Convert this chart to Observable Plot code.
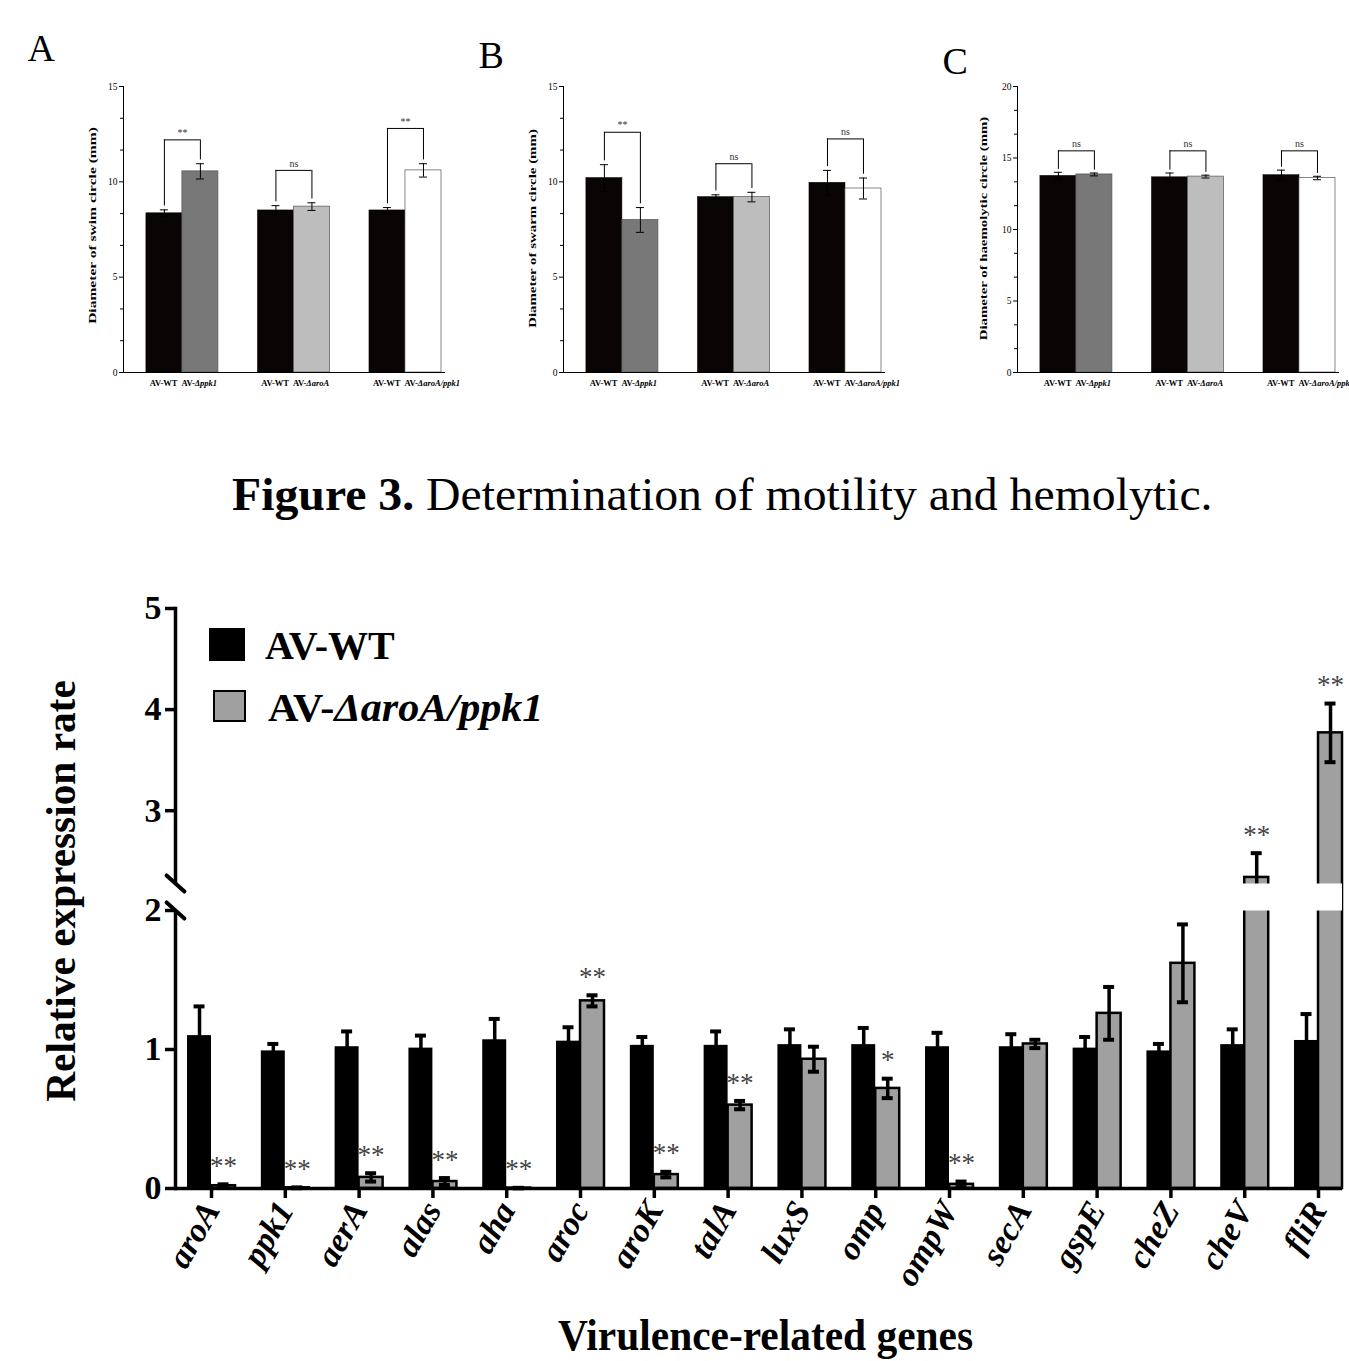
<!DOCTYPE html>
<html>
<head>
<meta charset="utf-8">
<script src="https://cdn.jsdelivr.net/npm/d3@7"></script>
<script src="https://cdn.jsdelivr.net/npm/@observablehq/plot@0.6"></script>
<style>
  html, body { margin: 0; padding: 0; background: #fff; }
  body { width: 1349px; height: 1361px; overflow: hidden; position: relative;
         font-family: 'Liberation Serif', 'Times New Roman', serif; color: #000; }
  .abs { position: absolute; white-space: nowrap; line-height: 1; }
  .panel { position: absolute; }
</style>
</head>
<body>
<script>
// ---------------- DATA ----------------
// Top panels (A: swim, B: swarm, C: haemolytic)
const topGroups = ["ppk1", "aroA", "aroA/ppk1"];
const wtLabel = "AV-WT";
const mutLabels = ["AV-Δppk1", "AV-ΔaroA", "AV-ΔaroA/ppk1"];

const swimWT = [8.35, 8.5, 8.5];
const swimWTErr = [0.18, 0.25, 0.15];
const swimMut = [10.55, 8.7, 10.6];
const swimMutErr = [0.4, 0.2, 0.35];
const swimSig = ["**", "ns", "**"];
const swimBracket = [12.2, 10.6, 12.8];

const swarmWT = [10.2, 9.2, 9.95];
const swarmWTErr = [0.7, 0.12, 0.65];
const swarmMut = [8.0, 9.2, 9.65];
const swarmMutErr = [0.65, 0.25, 0.55];
const swarmSig = ["**", "ns", "ns"];
const swarmBracket = [12.6, 10.95, 12.25];

const haemoWT = [13.75, 13.65, 13.8];
const haemoWTErr = [0.25, 0.3, 0.35];
const haemoMut = [13.85, 13.7, 13.6];
const haemoMutErr = [0.1, 0.1, 0.12];
const haemoSig = ["ns", "ns", "ns"];
const haemoBracket = [15.5, 15.5, 15.5];

// Bottom panel: relative expression
const genes = ["aroA", "ppk1", "aerA", "alas", "aha", "aroc", "aroK", "talA",
               "luxS", "omp", "ompW", "secA", "gspE", "cheZ", "cheV", "fliR"];
const wtExpr    = [1.10, 0.99, 1.02, 1.01, 1.07, 1.06, 1.03, 1.03, 1.035, 1.035, 1.02, 1.02, 1.01, 0.99, 1.035, 1.065];
const wtExprErr = [0.21, 0.05, 0.11, 0.09, 0.15, 0.10, 0.06, 0.10, 0.11, 0.12, 0.10, 0.09, 0.08, 0.05, 0.11, 0.19];
const mutExpr    = [0.02, 0.005, 0.08, 0.05, 0.003, 1.35, 0.10, 0.60, 0.93, 0.72, 0.03, 1.04, 1.26, 1.62, 2.34, 3.77];
const mutExprErr = [0.01, 0.003, 0.03, 0.025, 0.002, 0.04, 0.02, 0.03, 0.09, 0.07, 0.02, 0.03, 0.19, 0.28, 0.24, 0.29];
const exprSig = ["**", "**", "**", "**", "**", "**", "**", "**", "", "*", "**", "", "", "", "**", "**"];
const yTicksBottom = [0, 1, 2, 3, 4, 5];
const axisBreak = [2, 2.28];   // y-axis break (lower segment top, upper segment bottom)

const seriesNames = ["AV-WT", "AV-ΔaroA/ppk1"];

// ---------------- STYLE ----------------
const SERIF = "'Liberation Serif', 'Times New Roman', serif";
const WT_FILL = "#0a0505";
const MUT_FILLS = ["#787878", "#bdbdbd", "#ffffff"];
const EXPR_MUT_FILL = "#a0a0a0";

function italicizeDelta(svg) {
  svg.querySelectorAll("text").forEach(t => {
    const s = t.textContent;
    if (s.startsWith("AV-Δ") && t.children.length === 0) {
      t.textContent = "";
      const a = document.createElementNS("http://www.w3.org/2000/svg", "tspan");
      a.textContent = "AV-";
      const b = document.createElementNS("http://www.w3.org/2000/svg", "tspan");
      b.textContent = s.slice(3);
      b.setAttribute("font-style", "italic");
      t.appendChild(a); t.appendChild(b);
    }
  });
}

function topPanel(cfg) {
  const {wt, wtErr, mut, mutErr, sig, bracket, yMax, left} = cfg;
  const HB = 18;
  const GAP = 0.2;
  const wtRows = topGroups.map((g, i) => ({group: g, label: wtLabel, v: wt[i], e: wtErr[i]}));
  const mutRows = topGroups.map((g, i) => ({group: g, label: mutLabels[i], v: mut[i], e: mutErr[i], fill: MUT_FILLS[i]}));
  const brRows = topGroups.map((g, i) => ({group: g, top: bracket[i],
    l: wt[i] + wtErr[i] + GAP, r: mut[i] + mutErr[i] + GAP, sig: sig[i]}));
  const major = d3.range(0, yMax + 0.001, 5);
  const minor = d3.range(0, yMax + 0.001, 5 / 3).filter(v => Math.abs(v / 5 - Math.round(v / 5)) > 0.01);
  const errMarks = (rows, dx) => [
    Plot.ruleX(rows, {x: "group", y1: d => d.v - d.e, y2: d => d.v + d.e, dx, stroke: "#000", strokeWidth: 1}),
    Plot.tickY(rows, {x: "group", y: d => d.v + d.e, dx, insetLeft: 14, insetRight: 14, stroke: "#000", strokeWidth: 1}),
    Plot.tickY(rows, {x: "group", y: d => d.v - d.e, dx, insetLeft: 14, insetRight: 14, stroke: "#000", strokeWidth: 1})
  ];
  const p = Plot.plot({
    width: 460, height: 340,
    marginLeft: 123, marginRight: 15, marginTop: 26, marginBottom: 28,
    style: {fontFamily: SERIF, background: "transparent", overflow: "visible", color: "#000"},
    x: {type: "band", domain: topGroups, paddingInner: 0.677, paddingOuter: 0.282, align: 0.65, round: false, axis: null},
    y: {domain: [0, yMax], label: null},
    color: {type: "identity"},
    marks: [
      Plot.barY(wtRows, {x: "group", y: "v", dx: -HB, fill: WT_FILL, stroke: WT_FILL, strokeWidth: 0.5}),
      Plot.barY(mutRows, {x: "group", y: "v", dx: HB, fill: "fill", stroke: "#555", strokeWidth: 0.7}),
      ...errMarks(wtRows, -HB),
      ...errMarks(mutRows, HB),
      Plot.ruleX(brRows, {x: "group", y1: "l", y2: "top", dx: -HB, stroke: "#000", strokeWidth: 1}),
      Plot.ruleX(brRows, {x: "group", y1: "r", y2: "top", dx: HB, stroke: "#000", strokeWidth: 1}),
      Plot.tickY(brRows, {x: "group", y: "top", stroke: "#000", strokeWidth: 1}),
      Plot.text(brRows, {x: "group", y: "top", text: "sig", dy: -7, fontSize: 10, fill: "#333"}),
      Plot.ruleY([0], {stroke: "#000", strokeWidth: 1}),
      Plot.frame({anchor: "left", stroke: "#000", strokeWidth: 1}),
      Plot.axisY({ticks: major, tickSize: 4, tickPadding: 2, fontSize: 9.5, label: null}),
      Plot.axisY({ticks: minor, tickSize: 3, tickFormat: () => "", label: null}),
      Plot.text(wtRows, {x: "group", y: 0, dx: -5, dy: 11, text: "label", textAnchor: "end", fontSize: 8.5, fontWeight: "bold"}),
      Plot.text(mutRows, {x: "group", y: 0, dx: -1, dy: 11, text: "label", textAnchor: "start", fontSize: 8.5, fontWeight: "bold"})
    ]
  });
  p.classList.add("panel");
  p.style.left = left + "px";
  p.style.top = "60px";
  italicizeDelta(p);
  document.body.appendChild(p);
}

topPanel({wt: swimWT, wtErr: swimWTErr, mut: swimMut, mutErr: swimMutErr, sig: swimSig, bracket: swimBracket, yMax: 15, left: 0});
topPanel({wt: swarmWT, wtErr: swarmWTErr, mut: swarmMut, mutErr: swarmMutErr, sig: swarmSig, bracket: swarmBracket, yMax: 15, left: 440});
topPanel({wt: haemoWT, wtErr: haemoWTErr, mut: haemoMut, mutErr: haemoMutErr, sig: haemoSig, bracket: haemoBracket, yMax: 20, left: 894});

// ---------------- BOTTOM PANEL ----------------
{
  const HB = 12;
  const wtRows = genes.map((g, i) => ({gene: g, v: wtExpr[i], e: wtExprErr[i]}));
  const mutRows = genes.map((g, i) => ({gene: g, v: mutExpr[i], e: mutExprErr[i], sig: exprSig[i]}));
  const errMarks = (rows, dx) => [
    Plot.ruleX(rows, {x: "gene", y1: d => d.v - d.e, y2: d => d.v + d.e, dx, stroke: "#000", strokeWidth: 3.5}),
    Plot.tickY(rows, {x: "gene", y: d => d.v + d.e, dx, insetLeft: 6.5, insetRight: 6.5, stroke: "#000", strokeWidth: 4}),
    Plot.tickY(rows, {x: "gene", y: d => d.v - d.e, dx, insetLeft: 6.5, insetRight: 6.5, stroke: "#000", strokeWidth: 4})
  ];
  const slash = {draw(context, l) { context.moveTo(0, 0); context.lineTo(0, -l); }};
  const p = Plot.plot({
    width: 1349, height: 781,
    marginLeft: 175, marginRight: 7, marginTop: 28, marginBottom: 173,
    style: {fontFamily: SERIF, background: "transparent", overflow: "visible", color: "#000"},
    x: {type: "band", domain: genes, paddingInner: 0.675, paddingOuter: 0.244, align: 0.667, round: false, label: null},
    y: {type: "linear", domain: [0, axisBreak[0], axisBreak[1], 5], range: [608, 330, 303, 28], label: null},
    marks: [
      Plot.barY(wtRows, {x: "gene", y: "v", dx: -HB, fill: "#000"}),
      Plot.barY(mutRows, {x: "gene", y: "v", dx: HB, fill: EXPR_MUT_FILL, stroke: "#000", strokeWidth: 2.5}),
      ...errMarks(wtRows, -HB),
      ...errMarks(mutRows, HB),
      Plot.frame({anchor: "left", stroke: "#000", strokeWidth: 3.5}),
      Plot.ruleY([(axisBreak[0] + axisBreak[1]) / 2], {stroke: "#fff", strokeWidth: 27, insetLeft: -12}),
      Plot.vector(axisBreak, {y: d => d, frameAnchor: "left", length: 24, rotate: 132, anchor: "middle",
        shape: slash, stroke: "#000", strokeWidth: 4}),
      Plot.ruleY([0], {stroke: "#000", strokeWidth: 3.5}),
      Plot.axisY({ticks: yTicksBottom, tickFormat: d3.format("d"), tickSize: 10, tickPadding: 4, fontSize: 34, fontWeight: "bold",
        strokeWidth: 3.5, label: null}),
      Plot.axisX({tickSize: 10, tickPadding: 6, tickRotate: -60, fontSize: 34, fontStyle: "italic",
        fontWeight: "bold", strokeWidth: 3.5, label: null}),
      Plot.text(mutRows.filter(d => d.sig), {x: "gene", y: d => d.v + d.e, dx: HB, dy: -18, text: "sig",
        lineAnchor: "middle", fontSize: 27, fill: "#444"})
    ]
  });
  p.classList.add("panel");
  p.style.left = "0px";
  p.style.top = "580px";
  document.body.appendChild(p);
}

// ---------------- HTML TEXT ----------------
function addText(content, {cx, cy, size, weight = "normal", style = "normal", length = null, rotate = 0, html = false}) {
  const el = document.createElement("div");
  el.className = "abs";
  el.style.fontSize = size + "px";
  el.style.fontWeight = weight;
  el.style.fontStyle = style;
  if (html) el.innerHTML = content; else el.textContent = content;
  document.body.appendChild(el);
  const w = el.offsetWidth, h = el.offsetHeight;
  const s = length ? length / w : 1;
  el.style.left = (cx - w / 2) + "px";
  el.style.top = (cy - h / 2) + "px";
  el.style.transformOrigin = "50% 50%";
  el.style.transform = `rotate(${rotate}deg) scaleX(${s})`;
  return el;
}

// panel letters
addText("A", {cx: 41, cy: 48, size: 38});
addText("B", {cx: 491, cy: 55, size: 38});
addText("C", {cx: 955, cy: 61, size: 38});

// top y-axis labels
addText("Diameter of swim circle (mm)", {cx: 92, cy: 225, size: 11, weight: "bold", rotate: -90, length: 196});
addText("Diameter of swarm circle (mm)", {cx: 532, cy: 228, size: 11, weight: "bold", rotate: -90, length: 199});
addText("Diameter of haemolytic circle (mm)", {cx: 983, cy: 228, size: 11, weight: "bold", rotate: -90, length: 223});

// figure caption
addText("<b>Figure 3.</b> Determination of motility and hemolytic.", {cx: 722, cy: 495, size: 46, length: 981, html: true});

// bottom axis titles
addText("Relative expression rate", {cx: 61, cy: 891, size: 42, weight: "bold", rotate: -90, length: 421});
addText("Virulence-related genes", {cx: 765, cy: 1336, size: 44, weight: "bold", length: 415});

// legend (inside the bottom chart)
{
  const sq1 = document.createElement("div");
  sq1.style.cssText = "position:absolute;left:209px;top:628px;width:36px;height:33px;background:#000;";
  document.body.appendChild(sq1);
  const sq2 = document.createElement("div");
  sq2.style.cssText = "position:absolute;left:213px;top:690px;width:29px;height:28px;background:" + EXPR_MUT_FILL + ";border:2.5px solid #000;";
  document.body.appendChild(sq2);
  addText(seriesNames[0], {cx: 330, cy: 646, size: 40, weight: "bold", length: 130});
  addText("AV-<i>" + seriesNames[1].slice(3) + "</i>", {cx: 405, cy: 708, size: 40, weight: "bold", length: 275, html: true});
}
</script>
</body>
</html>
